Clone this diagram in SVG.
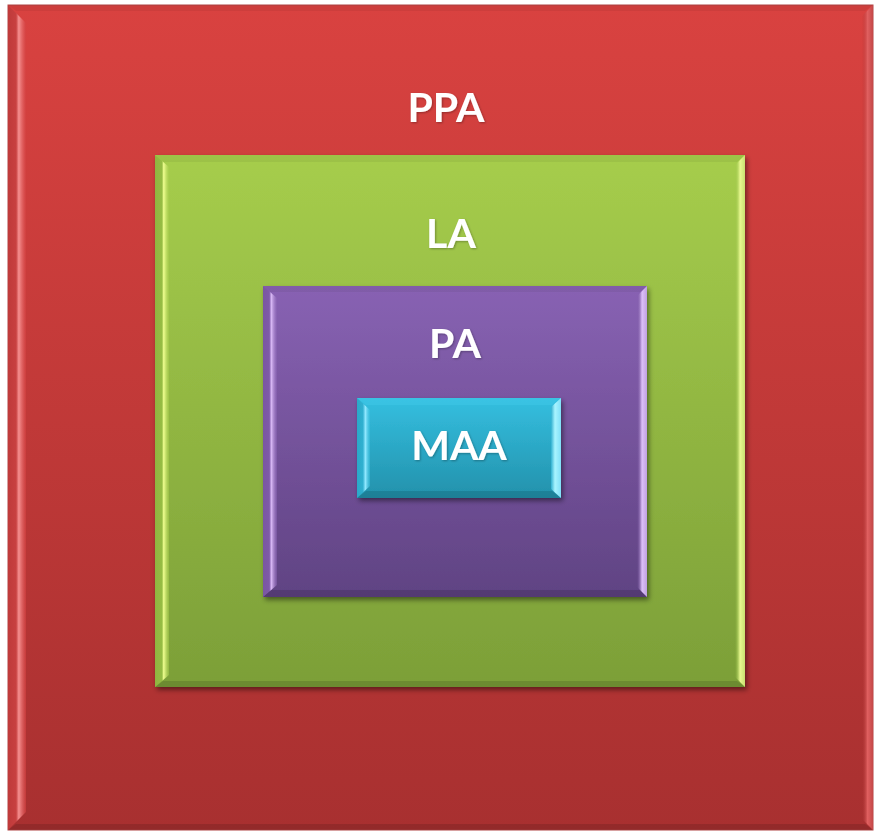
<svg xmlns="http://www.w3.org/2000/svg" width="876" height="833" viewBox="0 0 876 833">
<defs>
<linearGradient id="gRed" x1="0" y1="0" x2="0" y2="1"><stop offset="0" stop-color="#d94240"/><stop offset="1" stop-color="#a83030"/></linearGradient>
<linearGradient id="gGreen" x1="0" y1="0" x2="0" y2="1"><stop offset="0" stop-color="#a6cd4c"/><stop offset="1" stop-color="#7c9f38"/></linearGradient>
<linearGradient id="gPurple" x1="0" y1="0" x2="0" y2="1"><stop offset="0" stop-color="#8862b3"/><stop offset="1" stop-color="#604383"/></linearGradient>
<linearGradient id="gCyan" x1="0" y1="0" x2="0" y2="1"><stop offset="0" stop-color="#34bfe0"/><stop offset="1" stop-color="#2391ab"/></linearGradient>
<linearGradient id="lRed" x1="0" y1="0" x2="1" y2="0"><stop offset="0" stop-color="#bf3a3a"/><stop offset="0.45" stop-color="#c84040"/><stop offset="0.6" stop-color="#f59090"/><stop offset="1" stop-color="#d44040" stop-opacity="0.6"/></linearGradient>
<linearGradient id="rRed" x1="0" y1="0" x2="1" y2="0"><stop offset="0" stop-color="#b03434" stop-opacity="0"/><stop offset="0.5" stop-color="#e06060"/><stop offset="1" stop-color="#c44848"/></linearGradient>
<linearGradient id="lGreen" x1="0" y1="0" x2="1" y2="0"><stop offset="0" stop-color="#8fb540"/><stop offset="0.5" stop-color="#96bc44"/><stop offset="0.62" stop-color="#f0ff90"/><stop offset="1" stop-color="#a6cd4c" stop-opacity="0.5"/></linearGradient>
<linearGradient id="rGreen" x1="0" y1="0" x2="1" y2="0"><stop offset="0" stop-color="#9ac44a" stop-opacity="0"/><stop offset="0.5" stop-color="#e8f890"/><stop offset="1" stop-color="#c8e070"/></linearGradient>
<linearGradient id="lPurple" x1="0" y1="0" x2="1" y2="0"><stop offset="0" stop-color="#7a56a2"/><stop offset="0.45" stop-color="#7e5aa8"/><stop offset="0.6" stop-color="#d8b8f5"/><stop offset="1" stop-color="#8862b3" stop-opacity="0.5"/></linearGradient>
<linearGradient id="rPurple" x1="0" y1="0" x2="1" y2="0"><stop offset="0" stop-color="#7a56a2" stop-opacity="0"/><stop offset="0.5" stop-color="#dcc0f8"/><stop offset="1" stop-color="#c0a0e0"/></linearGradient>
<linearGradient id="lCyan" x1="0" y1="0" x2="1" y2="0"><stop offset="0" stop-color="#2aa8c8"/><stop offset="0.45" stop-color="#30b0d0"/><stop offset="0.65" stop-color="#90e8ff"/><stop offset="1" stop-color="#34bfe0" stop-opacity="0.5"/></linearGradient>
<linearGradient id="rCyan" x1="0" y1="0" x2="1" y2="0"><stop offset="0" stop-color="#30b0d0"/><stop offset="0.4" stop-color="#a8f4ff"/><stop offset="1" stop-color="#80e0f8"/></linearGradient>
<filter id="sh" x="-10%" y="-10%" width="125%" height="125%"><feDropShadow dx="2" dy="3" stdDeviation="2.5" flood-color="#000" flood-opacity="0.45"/></filter>
<filter id="tsh" x="-20%" y="-20%" width="140%" height="140%"><feDropShadow dx="1" dy="1" stdDeviation="1" flood-color="#000" flood-opacity="0.3"/></filter>
</defs>
<style>
.lbl{font-family:Lato,"Open Sans","Liberation Sans",sans-serif;font-weight:bold;font-size:41px;fill:#ffffff;text-anchor:middle;filter:url(#tsh)}
.top{fill:#000;fill-opacity:0.05}
.bot{fill:#000;fill-opacity:0.12}
</style>
<rect width="876" height="833" fill="#ffffff"/>
<g id="PPA">
<rect x="8" y="5" width="865" height="825" fill="url(#gRed)" stroke="#b04545" stroke-width="1"/>
<polygon points="8,5 873,5 865,11 16,11" class="top"/>
<polygon points="8,830 873,830 865,824 16,824" class="bot"/>
<polygon points="8,5 26,23 26,812 8,830" fill="url(#lRed)"/>
<polygon points="873,5 862,16 862,819 873,830" fill="url(#rRed)"/>
<text class="lbl" x="446" y="122">PPA</text>
</g>
<g id="LA">
<rect x="155" y="155" width="590" height="532" fill="url(#gGreen)" filter="url(#sh)"/>
<polygon points="155,155 745,155 737,162 163,162" class="top"/>
<polygon points="155,687 745,687 737,681 163,681" class="bot"/>
<polygon points="155,155 169,167 169,675 155,687" fill="url(#lGreen)"/>
<polygon points="745,155 735,165 735,677 745,687" fill="url(#rGreen)"/>
<text class="lbl" x="451" y="248">LA</text>
</g>
<g id="PA">
<rect x="263" y="286" width="384" height="311" fill="url(#gPurple)" filter="url(#sh)"/>
<polygon points="263,286 647,286 640,292 270,292" class="top"/>
<polygon points="263,597 647,597 640,590 270,590" class="bot"/>
<polygon points="263,286 277,298 277,585 263,597" fill="url(#lPurple)"/>
<polygon points="647,286 637,296 637,587 647,597" fill="url(#rPurple)"/>
<text class="lbl" x="455" y="358">PA</text>
</g>
<g id="MAA">
<rect x="357" y="398" width="204" height="100" fill="url(#gCyan)" filter="url(#sh)"/>
<polygon points="357,398 561,398 552,405 366,405" fill="#40c8e8" fill-opacity="0.5"/>
<polygon points="357,498 561,498 552,491 366,491" class="bot"/>
<polygon points="357,398 370,410 370,486 357,498" fill="url(#lCyan)"/>
<polygon points="561,398 551,407 551,489 561,498" fill="url(#rCyan)"/>
<text class="lbl" x="459" y="460">MAA</text>
</g>
<g id="connectors"/>
</svg>
